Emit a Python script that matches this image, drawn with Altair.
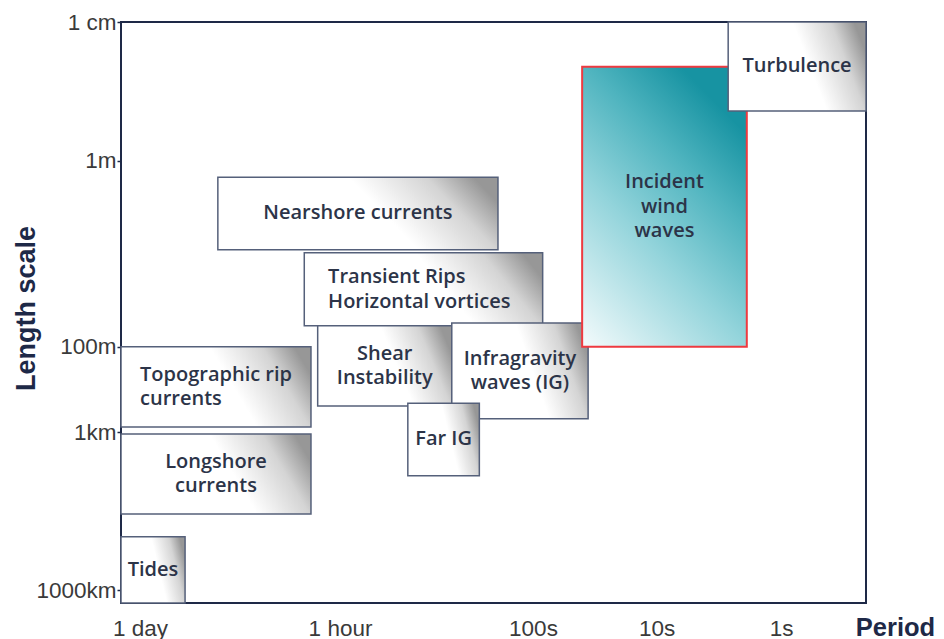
import altair as alt
import pandas as pd

# ---- data (abstract plot units: period axis 0-100 left->right, length axis 0-100 top->bottom)
names = [
    "Nearshore currents",
    "Transient Rips\nHorizontal vortices",
    "Shear\nInstability",
    "Infragravity\nwaves (IG)",
    "Far IG",
    "Topographic rip\ncurrents",
    "Longshore\ncurrents",
    "Tides",
    "Incident\nwind\nwaves",
    "Turbulence",
]
period_start = [13.0, 24.6, 26.4, 44.4, 38.5, 0.0, 0.0, 0.0, 61.9, 81.5]
period_end = [50.6, 56.6, 44.4, 62.7, 48.1, 25.5, 25.5, 8.6, 84.0, 100.0]
length_start = [26.7, 39.7, 52.3, 51.8, 65.6, 55.9, 70.9, 88.6, 7.7, 0.0]
length_end = [39.2, 52.3, 66.1, 68.3, 78.1, 69.7, 84.7, 100.0, 55.9, 15.3]
group = ["back"] * 8 + ["wind", "front"]
text_align = ["center", "left", "center", "center", "center", "left",
              "center", "center", "center", "center"]

period_ticks = [2.55, 29.4, 55.3, 71.9, 88.6]
period_labels = ["1 day", "1 hour", "100s", "10s", "1s"]
length_ticks = [0.0, 23.9, 55.9, 70.6, 97.8]
length_labels = ["1 cm", "1m", "100m", "1km", "1000km"]

df = pd.DataFrame({
    "name": names,
    "x0": period_start,
    "x1": period_end,
    "y0": length_start,
    "y1": length_end,
    "group": group,
    "talign": text_align,
})

NAVY = "#1e2947"
TEXT = "#2c3448"
LINE_H = 24.5


def label_expr(ticks, labels):
    arr_t = "[" + ",".join(str(t) for t in ticks) + "]"
    arr_l = "[" + ",".join("'" + l + "'" for l in labels) + "]"
    return f"{arr_l}[indexof({arr_t}, datum.value)]"


x_scale = alt.Scale(domain=[0, 100], nice=False, zero=False)
y_scale = alt.Scale(domain=[0, 100], nice=False, zero=False, reverse=True)

x_axis = alt.Axis(
    values=period_ticks, labelExpr=label_expr(period_ticks, period_labels),
    ticks=False, domain=False, grid=False, labelFlush=False, labelOverlap=False,
    labelFont="Liberation Sans", labelFontSize=22.5, labelColor="#3a3a3a",
    labelBaseline="alphabetic", labelPadding=32,
    title="Period", titleFont="Liberation Sans", titleFontSize=25.5,
    titleFontWeight="bold", titleColor=NAVY, titleX=774, titleY=32,
    titleAlign="center", titleBaseline="alphabetic",
)
y_axis = alt.Axis(
    values=length_ticks, labelExpr=label_expr(length_ticks, length_labels),
    ticks=True, tickSize=4, tickColor=NAVY, tickWidth=1.5,
    domain=False, grid=False, labelFlush=False, labelOverlap=False,
    labelFont="Liberation Sans", labelFontSize=22.5, labelColor="#3a3a3a",
    labelPadding=1,
    title="Length scale", titleFont="Liberation Sans", titleFontSize=27,
    titleFontWeight="bold", titleColor=NAVY, titleX=-95, titleY=286,
    titleAngle=-90, titleAlign="center", titleBaseline="middle",
)

gray_fill = {
    "gradient": "linear", "x1": 0, "y1": 0.6, "x2": 1, "y2": 0.35,
    "stops": [
        {"offset": 0, "color": "#ffffff"},
        {"offset": 0.58, "color": "#ffffff"},
        {"offset": 0.84, "color": "#d4d4d4"},
        {"offset": 1, "color": "#979797"},
    ],
}
teal_fill = {
    "gradient": "linear", "x1": 0, "y1": 1, "x2": 0.6, "y2": 0,
    "stops": [
        {"offset": 0, "color": "#f4fbfc"},
        {"offset": 0.45, "color": "#93d4db"},
        {"offset": 0.75, "color": "#4fb4bf"},
        {"offset": 1, "color": "#1793a2"},
    ],
}

base = alt.Chart(df)
enc = dict(
    x=alt.X("x0:Q", scale=x_scale, axis=x_axis),
    x2="x1:Q",
    y=alt.Y("y0:Q", scale=y_scale, axis=y_axis),
    y2="y1:Q",
)

back = base.transform_filter("datum.group == 'back'").mark_rect(
    fill=gray_fill, stroke="#55607a", strokeWidth=1.5
).encode(**enc)
wind = base.transform_filter("datum.group == 'wind'").mark_rect(
    fill=teal_fill, stroke="#ee3a40", strokeWidth=2
).encode(**enc)
front = base.transform_filter("datum.group == 'front'").mark_rect(
    fill=gray_fill, stroke="#55607a", strokeWidth=1.5
).encode(**enc)

text_props = dict(font="Open Sans", fontWeight=600, fontSize=20, color=TEXT,
                  lineBreak="\n", lineHeight=LINE_H, baseline="middle")


def text_layer(align, nlines):
    if align == "left":
        tx = "datum.x0 + 0.1 * (datum.x1 - datum.x0)"
    else:
        tx = "(datum.x0 + datum.x1) / 2"
    return base.transform_calculate(
        nl="length(split(datum.name, '\\n'))",
        tx=tx, ty="(datum.y0 + datum.y1) / 2",
    ).transform_filter(
        f"datum.talign == '{align}' && datum.nl == {nlines}"
    ).mark_text(align=align, dy=-(nlines - 1) * LINE_H / 2, **text_props).encode(
        x=alt.X("tx:Q", scale=x_scale), y=alt.Y("ty:Q", scale=y_scale), text="name:N"
    )


texts = [text_layer("center", 1), text_layer("center", 2), text_layer("center", 3),
         text_layer("left", 2)]

chart = alt.layer(back, wind, front, *texts).properties(
    width=745, height=581,
    autosize=alt.AutoSizeParams(type="none"),
    padding={"left": 113, "top": 14, "right": 70, "bottom": 36},
    background="white",
).configure_view(stroke=NAVY, strokeWidth=2)

chart.save("out.html", embed_options={"renderer": "svg", "actions": False})
